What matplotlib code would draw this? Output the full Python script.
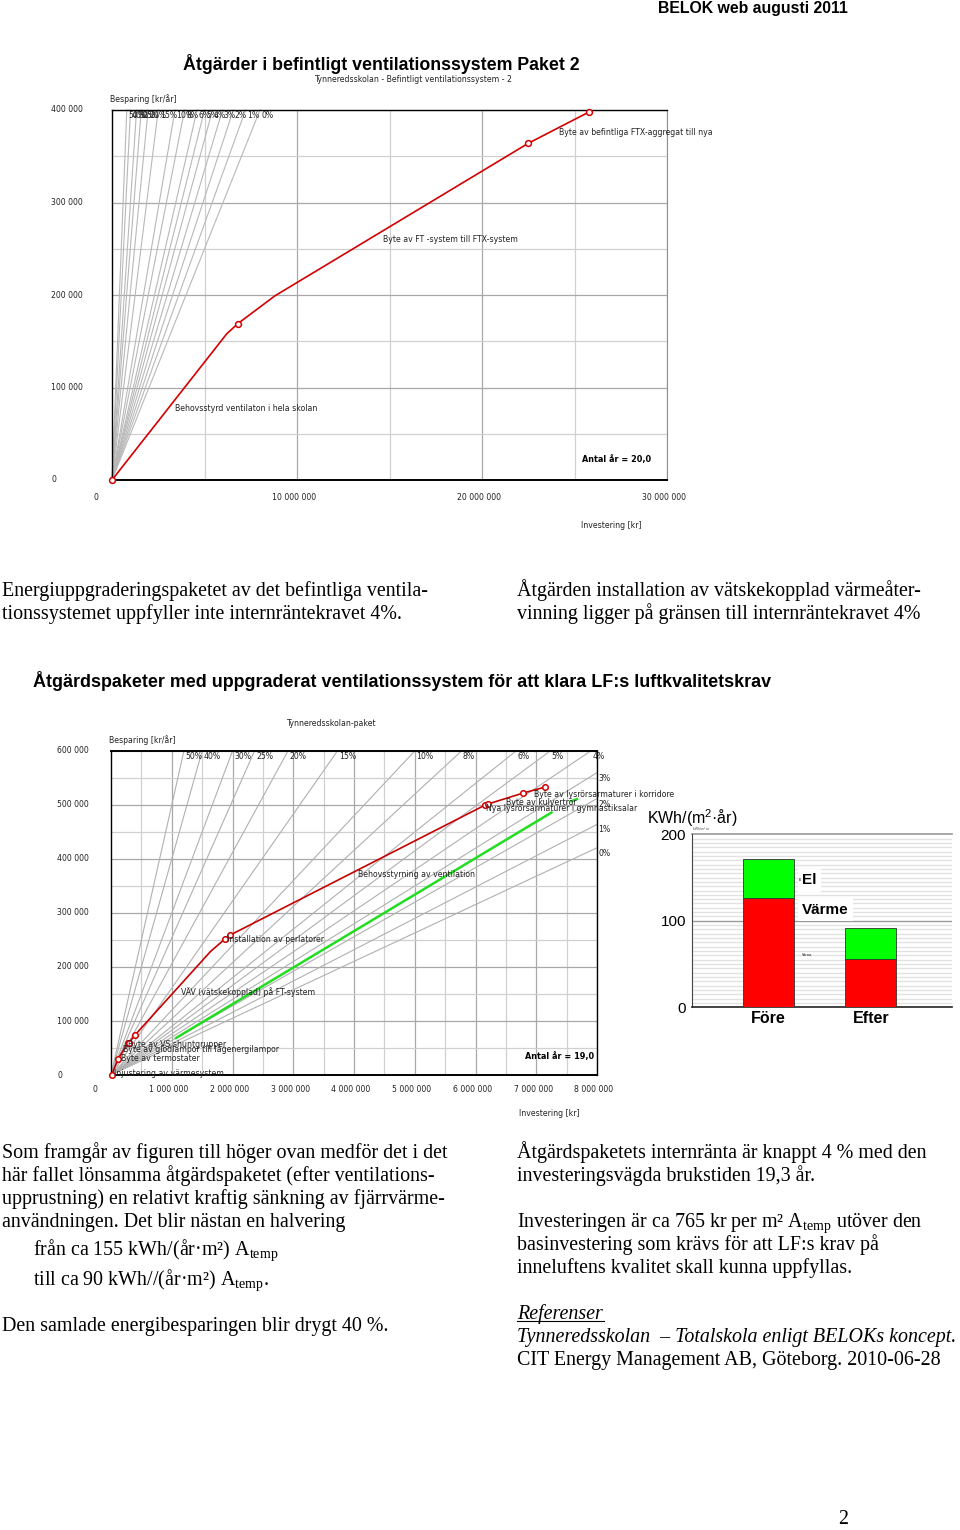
import matplotlib
matplotlib.use('Agg')
import matplotlib.pyplot as plt
import matplotlib.transforms as mtrans
import numpy as np

W, H = 960, 1530
plt.rcParams['mathtext.fontset'] = 'custom'
plt.rcParams['mathtext.rm'] = 'Liberation Serif'
plt.rcParams['mathtext.it'] = 'Liberation Serif:italic'

# ---------------- data: chart 1 (befintligt ventilationssystem, 20 år) ----------------
c1_inv = [0, 6.2e6, 6.8e6, 8.8e6, 22.5e6, 25.8e6]
c1_sav = [0, 158e3, 169e3, 199e3, 364e3, 398e3]
c1_markers = [0, 2, 4, 5]
c1_rates = ['50%', '40%', '30%', '25%', '20%', '15%', '10%', '8%', '6%', '5%', '4%', '3%', '2%', '1%', '0%']
c1_slopes = [0.500, 0.400, 0.301, 0.253, 0.205, 0.160, 0.1175, 0.102, 0.087, 0.080, 0.0736, 0.067, 0.061, 0.0554, 0.050]
c1_text = ['Behovsstyrd ventilaton i hela skolan', 'Byte av FT -system till FTX-system',
           'Byte av befintliga FTX-aggregat till nya']
c1_text_x = [3.41e6, 14.65e6, 24.16e6]
c1_text_y = [76.8e3, 260.5e3, 376e3]
c1_xticks = [0, 10e6, 20e6, 30e6]
c1_xlabels = ['0', '10 000 000', '20 000 000', '30 000 000']
c1_yticks = [0, 100e3, 200e3, 300e3, 400e3]
c1_ylabels = ['0', '100 000', '200 000', '300 000', '400 000']

# ---------------- data: chart 2 (paket, 19 år) ----------------
c2_inv = [0.01e6, 0.115e6, 0.275e6, 0.296e6, 0.395e6, 1.64e6, 1.877e6, 1.959e6, 6.16e6, 6.21e6, 6.78e6, 7.14e6]
c2_sav = [0, 29.6e3, 58.7e3, 59.8e3, 74e3, 229e3, 252e3, 259e3, 500e3, 502e3, 522e3, 533e3]
c2_markers = [0, 1, 2, 3, 4, 6, 7, 8, 9, 10, 11]
c2_green_inv = [1.07e6, 7.25e6]
c2_green_sav = [68.5e3, 486e3]
c2_green2_inv = [7.58e6, 7.67e6]
c2_green2_sav = [507e3, 511e3]
c2_rates = ['50%', '40%', '30%', '25%', '20%', '15%', '10%', '8%', '6%', '5%', '4%', '3%', '2%', '1%', '0%']
c2_slopes = [0.50, 0.40, 0.30, 0.254, 0.206, 0.161, 0.12, 0.104, 0.090, 0.083, 0.076, 0.070, 0.064, 0.058, 0.0526]
c2_text = ['Injustering av värmesystem', 'Byte av termostater', 'Byte av glödlampor till lågenergilampor',
           'Byte av VS shuntgrupper', 'VÄV (vätskekopplad) på FT-system', 'Installation av perlatorer',
           'Behovsstyrning av ventilation', 'Nya lysrörsarmaturer i gymnastiksalar', 'Byte av kulvertrör',
           'Byte av lysrörsarmaturer i korridore']
c2_text_x = [0.055e6, 0.165e6, 0.20e6, 0.285e6, 1.16e6, 1.91e6, 4.07e6, 6.17e6, 6.51e6, 6.96e6]
c2_text_y = [3e3, 31e3, 47.6e3, 57.4e3, 154e3, 250e3, 372e3, 494e3, 504e3, 520e3]
c2_xticks = [0, 1e6, 2e6, 3e6, 4e6, 5e6, 6e6, 7e6, 8e6]
c2_xlabels = ['0', '1 000 000', '2 000 000', '3 000 000', '4 000 000', '5 000 000', '6 000 000', '7 000 000', '8 000 000']
c2_yticks = [0, 100e3, 200e3, 300e3, 400e3, 500e3, 600e3]
c2_ylabels = ['0', '100 000', '200 000', '300 000', '400 000', '500 000', '600 000']

# ---------------- data: bar chart ----------------
bar_cats = ['Före', 'Efter']
bar_varme = [126, 55.5]
bar_el = [45, 36.5]

# ---------------- text ----------------
para1_left = ['Energiuppgraderingspaketet av det befintliga ventila-',
              'tionssystemet uppfyller inte internräntekravet 4%.']
para1_right = ['Åtgärden installation av vätskekopplad värmeåter-',
               'vinning ligger på gränsen till internräntekravet 4%']
para2_left = ['Som framgår av figuren till höger ovan medför det i det',
              'här fallet lönsamma åtgärdspaketet (efter ventilations-',
              'upprustning) en relativt kraftig sänkning av fjärrvärme-',
              'användningen. Det blir nästan en halvering']
para2_right = ['Åtgärdspaketets internränta är knappt 4 % med den',
               'investeringsvägda brukstiden 19,3 år.']
para3_right = ['Investeringen är ca 765 kr per m² A$_{\\rm temp}$ utöver den',
               'basinvestering som krävs för att LF:s krav på',
               'inneluftens kvalitet skall kunna uppfyllas.']

SERIF = 'Liberation Serif'
SANS = 'Liberation Sans'
SMALL = dict(family='DejaVu Sans', fontstretch='condensed', fontsize=6.2, color='#222222')
BODY = dict(family=SERIF, fontsize=14.4, ha='left', va='baseline')

fig = plt.figure(figsize=(W / 100, H / 100), dpi=100)
fig.patch.set_facecolor('white')


def rect(l, t, r, b):
    return [l / W, 1 - b / H, (r - l) / W, (b - t) / H]


def ft(x, y, s, **kw):
    kw.setdefault('va', 'center')
    return fig.text(x / W, 1 - y / H, s, **kw)


def body(x, y, s, **kw):
    # y is the visual centre of the line; baseline lies a few px lower
    d = dict(BODY)
    d.update(kw)
    return fig.text(x / W, 1 - (y + 5) / H, s, **d)


def style_grid(ax, xminor, yminor, xmajor, ymajor, xmax, ymax):
    for v in np.arange(xminor, xmax + 1, xminor):
        major = abs(v / xmajor - round(v / xmajor)) < 1e-6
        ax.axvline(v, color='#a8a8a8' if major else '#d0d0d0', lw=0.9, zorder=1)
    for v in np.arange(yminor, ymax + 1, yminor):
        major = abs(v / ymajor - round(v / ymajor)) < 1e-6
        ax.axhline(v, color='#a8a8a8' if major else '#d0d0d0', lw=0.9, zorder=1)


def tick_texts(ax, xticks, xlabels, yticks, ylabels, xlab_y, ylab_x, zero_dx):
    tx = mtrans.blended_transform_factory(ax.transData, fig.transFigure)
    for v, s in zip(xticks, xlabels):
        dx = zero_dx if v == 0 else -3
        t = mtrans.offset_copy(tx, fig, x=dx, y=0, units='dots')
        ax.text(v, 1 - xlab_y / H, s, transform=t, ha='center', va='center', **SMALL)
    ty = mtrans.blended_transform_factory(fig.transFigure, ax.transData)
    for v, s in zip(yticks, ylabels):
        ax.text(ylab_x / W, v, s, transform=ty, ha='left', va='center', **SMALL)


def rate_lines(ax, slopes, rates, xmax, ymax, color):
    for s, r in zip(slopes, rates):
        xe = min(xmax, ymax / s)
        ye = s * xe
        ax.plot([0, xe], [0, ye], color=color, lw=0.8, zorder=2, clip_on=False)
        t = mtrans.offset_copy(ax.transData, fig, x=1.5, y=-1, units='dots')
        ax.text(xe, ye, r, transform=t, ha='left', va='top', zorder=5, **SMALL)


# ---------------- header & title ----------------
ft(848, 8, 'BELOK web augusti 2011', ha='right', family=SANS, weight='bold', fontsize=11.4)
ft(381, 64, 'Åtgärder i befintligt ventilationssystem Paket 2', ha='center', family=SANS,
   weight='bold', fontsize=12.8)
ft(413, 80, 'Tynneredsskolan - Befintligt ventilationssystem - 2', ha='center', **SMALL)

# ---------------- chart 1 ----------------
ax1 = fig.add_axes(rect(112, 110, 667, 480))
ax1.set_xlim(0, 30e6)
ax1.set_ylim(0, 400e3)
style_grid(ax1, 5e6, 50e3, 10e6, 100e3, 30e6, 400e3)
rate_lines(ax1, c1_slopes, c1_rates, 30e6, 400e3, '#b8b8b8')
ax1.plot(c1_inv, c1_sav, color='#d40000', lw=1.2, zorder=4, clip_on=False)
ax1.plot([c1_inv[i] for i in c1_markers], [c1_sav[i] for i in c1_markers], 'o', ms=4.2,
         mfc='white', mec='#d40000', mew=1.1, zorder=5, clip_on=False)
for s, x, y in zip(c1_text, c1_text_x, c1_text_y):
    ax1.text(x, y, s, ha='left', va='center', zorder=6, **SMALL)
ax1.text(25.4e6, 22.7e3, 'Antal år = 20,0', ha='left', va='center', zorder=6,
         family='DejaVu Sans', fontstretch='condensed', fontsize=6.5, weight='bold')
ax1.set_xticks([])
ax1.set_yticks([])
for k in ['left', 'bottom', 'top']:
    ax1.spines[k].set_color('black')
    ax1.spines[k].set_linewidth(1.0)
ax1.spines['bottom'].set_linewidth(1.4)
ax1.spines['right'].set_color('#909090')
tick_texts(ax1, c1_xticks, c1_xlabels, c1_yticks, c1_ylabels, 497, 51, -16)
ft(110, 99, 'Besparing [kr/år]', ha='left', **SMALL)
ft(611, 525, 'Investering [kr]', ha='center', **SMALL)

# ---------------- paragraph 1 ----------------
for i, s in enumerate(para1_left):
    body(2, 591 + 23 * i, s)
for i, s in enumerate(para1_right):
    body(517, 591 + 23 * i, s)

ft(33, 681, 'Åtgärdspaketer med uppgraderat ventilationssystem för att klara LF:s luftkvalitetskrav',
   ha='left', family=SANS, weight='bold', fontsize=12.9)

# ---------------- chart 2 ----------------
ax2 = fig.add_axes(rect(111, 751, 597, 1075))
ax2.set_xlim(0, 8e6)
ax2.set_ylim(0, 600e3)
style_grid(ax2, 0.5e6, 50e3, 1e6, 100e3, 8e6, 600e3)
rate_lines(ax2, c2_slopes, c2_rates, 8e6, 600e3, '#b0b0b0')
ax2.plot(c2_green_inv, c2_green_sav, color='#22dd22', lw=1.8, zorder=3)
ax2.plot(c2_green2_inv, c2_green2_sav, color='#22dd22', lw=1.8, zorder=3)
ax2.plot(c2_inv, c2_sav, color='#c80000', lw=1.2, zorder=4, clip_on=False)
ax2.plot([c2_inv[i] for i in c2_markers], [c2_sav[i] for i in c2_markers], 'o', ms=4.0,
         mfc='white', mec='#d40000', mew=1.1, zorder=5, clip_on=False)
for s, x, y in zip(c2_text, c2_text_x, c2_text_y):
    ax2.text(x, y, s, ha='left', va='center', zorder=6, **SMALL)
ax2.text(6.82e6, 35e3, 'Antal år = 19,0', ha='left', va='center', zorder=6,
         family='DejaVu Sans', fontstretch='condensed', fontsize=6.5, weight='bold')
ax2.set_xticks([])
ax2.set_yticks([])
for k in ['left', 'bottom', 'top', 'right']:
    ax2.spines[k].set_color('black')
    ax2.spines[k].set_linewidth(1.0)
ax2.spines['top'].set_linewidth(1.4)
ax2.spines['bottom'].set_linewidth(1.4)
tick_texts(ax2, c2_xticks, c2_xlabels, c2_yticks, c2_ylabels, 1089, 57, -16)
ft(331, 723, 'Tynneredsskolan-paket', ha='center', **SMALL)
ft(109, 740, 'Besparing [kr/år]', ha='left', **SMALL)
ft(549, 1113, 'Investering [kr]', ha='center', **SMALL)

# ---------------- bar chart ----------------
ax3 = fig.add_axes(rect(691.7, 834.3, 951.5, 1007.3))
ax3.set_xlim(-0.747, 1.787)
ax3.set_ylim(0, 200)
for v in range(5, 200, 5):
    if v != 100:
        ax3.axhline(v, color='#e2e2e2', lw=1.0, zorder=0)
ax3.axhline(100, color='#999999', lw=1.0, zorder=1)
ax3.axhline(200, color='#999999', lw=1.2, zorder=1, clip_on=False)
xpos = list(range(len(bar_cats)))
ax3.bar(xpos, bar_varme, width=0.5, color='#ff0000', edgecolor='#333333', lw=0.6, zorder=3)
ax3.bar(xpos, bar_el, bottom=bar_varme, width=0.5, color='#00ff00', edgecolor='#333333', lw=0.6, zorder=3)
ax3.set_xticks(xpos)
ax3.set_xticklabels(bar_cats, family=SANS, weight='bold', fontsize=11.5)
ax3.tick_params(axis='x', length=0, pad=3)
ax3.set_yticks([0, 100, 200])
ax3.set_yticklabels(['0', '100', '200'], family=SANS, fontsize=11)
ax3.tick_params(axis='y', length=0, pad=4)
for k in ['top', 'right']:
    ax3.spines[k].set_visible(False)
ax3.spines['left'].set_color('#444444')
ax3.spines['bottom'].set_color('#222222')
ax3.spines['bottom'].set_linewidth(1.2)
ax3.text(0.33, 147, 'El', ha='left', va='center', family=SANS, weight='bold', fontsize=11, zorder=5,
         bbox=dict(boxstyle='square,pad=0.3', fc='white', ec='none'))
ax3.text(0.33, 113, 'Värme', ha='left', va='center', family=SANS, weight='bold', fontsize=11, zorder=5,
         bbox=dict(boxstyle='square,pad=0.3', fc='white', ec='none'))
ax3.text(0.30, 147, 'El', ha='left', va='center', family=SANS, fontsize=2.5, zorder=6)
ax3.text(0.33, 60, 'Värme', ha='left', va='center', family=SANS, fontsize=2.5, zorder=6)
ft(647, 817, 'KWh/(m$^{\\mathregular{2}}$·år)', ha='left', family=SANS, fontsize=11.5)
ft(693, 829, 'kWh/m² år', ha='left', family=SANS, fontsize=2.5, color='#555555')

# ---------------- paragraphs 2/3 ----------------
for i, s in enumerate(para2_left):
    body(2, 1153 + 23 * i, s)
body(33, 1250, 'från ca 155 kWh/(år·m²) A$_{\\rm temp}$')
body(33, 1280, 'till ca 90 kWh//(år·m²) A$_{\\rm temp}$.')
body(2, 1326, 'Den samlade energibesparingen blir drygt 40 %.')

for i, s in enumerate(para2_right):
    body(517, 1153 + 23 * i, s)
for i, s in enumerate(para3_right):
    body(517, 1222 + 23 * i, s)
body(517, 1314, 'Referenser', style='italic')
fig.lines.append(plt.Line2D([517 / W, 604 / W], [1 - 1321 / H, 1 - 1321 / H], transform=fig.transFigure,
                            color='black', lw=0.8))
body(517, 1337, 'Tynneredsskolan  – Totalskola enligt BELOKs koncept.', style='italic')
body(517, 1360, 'CIT Energy Management AB, Göteborg. 2010-06-28')
body(838, 1519, '2')

fig.savefig('out.png', dpi=100)
